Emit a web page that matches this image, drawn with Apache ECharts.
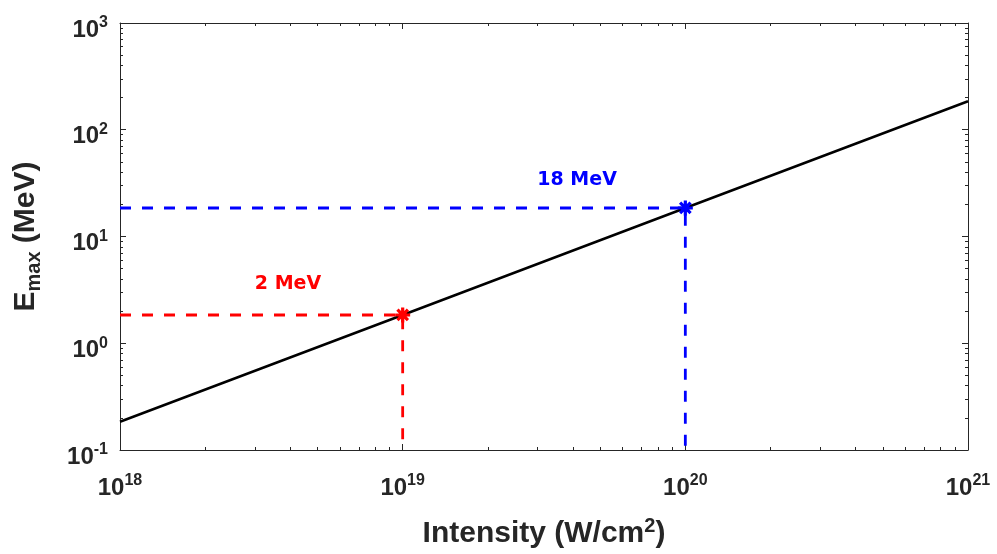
<!DOCTYPE html>
<html>
<head>
<meta charset="utf-8">
<script src="https://cdn.jsdelivr.net/npm/echarts@6/dist/echarts.min.js"></script>
<style>
  html, body { margin: 0; padding: 0; background: #fff; }
  #chart { width: 997px; height: 554px; }
</style>
</head>
<body>
<div id="chart"></div>
<script>
  // intensity (W/cm^2) vs max energy (MeV)
  const intensity = [1e18, 1e19, 1e20, 1e21];
  const emax = [0.184, 1.84, 18.5, 185];

  const redPoint = [1e19, 1.84];
  const bluePoint = [1e20, 18.5];

  const labelRed = { text: "2 MeV", at: [3.93e18, 3.55] };
  const labelBlue = { text: "18 MeV", at: [4.14e19, 33.5] };

  const xMajor = [1e18, 1e19, 1e20, 1e21];
  const yMajor = [0.1, 1, 10, 100, 1000];

  function minors(majors) {
    const out = [];
    for (let i = 0; i < majors.length - 1; i++) {
      for (let k = 2; k <= 9; k++) out.push(majors[i] * k);
    }
    return out;
  }

  // log10 of the top value can round just above the extent; pull it inside
  function inside(values) {
    const top = values[values.length - 1];
    return values.map((v) => (v === top ? v * (1 - 1e-9) : v));
  }

  const AXIS_COLOR = "#262626";
  const FONT = "'Liberation Sans', Arial, sans-serif";

  const rich = {
    b: { fontSize: 24, fontWeight: "bold", lineHeight: 30, color: AXIS_COLOR, fontFamily: FONT },
    s: { fontSize: 16, fontWeight: "bold", lineHeight: 12, verticalAlign: "top", color: AXIS_COLOR, fontFamily: FONT },
  };

  function powLabel(v) {
    const e = Math.round(Math.log10(v));
    return "{b|10}{s|" + e + "}";
  }

  function xAxisDef(extra) {
    return Object.assign({
      type: "log",
      logBase: 10,
      min: 1e18,
      max: 1e21,
      axisLine: { show: true, onZero: false, lineStyle: { color: AXIS_COLOR, width: 1 } },
      splitLine: { show: false },
      axisLabel: { show: false },
    }, extra);
  }

  function yAxisDef(extra) {
    return Object.assign({
      type: "log",
      logBase: 10,
      min: 0.1,
      max: 1000,
      axisLine: { show: true, onZero: false, lineStyle: { color: AXIS_COLOR, width: 1 } },
      splitLine: { show: false },
      axisLabel: { show: false },
    }, extra);
  }

  const majorTick = { show: true, inside: true, length: 6, lineStyle: { color: AXIS_COLOR, width: 1 } };
  const minorTick = { show: true, inside: true, length: 3, lineStyle: { color: AXIS_COLOR, width: 1 } };

  const titleRich = {
    n: { fontSize: 30, fontWeight: "bold", lineHeight: 36, color: AXIS_COLOR, fontFamily: FONT },
    s: { fontSize: 20, fontWeight: "bold", lineHeight: 14, verticalAlign: "top", color: AXIS_COLOR, fontFamily: FONT },
    sub: { fontSize: 20, fontWeight: "bold", lineHeight: 14, verticalAlign: "bottom", color: AXIS_COLOR, fontFamily: FONT },
  };

  const xTicks = inside(xMajor);
  const yTicks = inside(yMajor);

  const xAxes = [
    xAxisDef({
      position: "bottom",
      axisTick: Object.assign({}, majorTick, { customValues: xTicks }),
      axisLabel: {
        show: true, customValues: xTicks, margin: 23, formatter: powLabel, rich: rich,
        showMinLabel: true, showMaxLabel: true, hideOverlap: false,
      },
      name: "{n|Intensity (W/cm}{s|2}{n|)}",
      nameLocation: "middle",
      nameGap: 66,
      nameTextStyle: { rich: titleRich },
    }),
    xAxisDef({ position: "bottom", axisLine: { show: false }, axisTick: Object.assign({}, minorTick, { customValues: minors(xMajor) }) }),
    xAxisDef({ position: "top", axisTick: Object.assign({}, majorTick, { customValues: xTicks }) }),
    xAxisDef({ position: "top", axisLine: { show: false }, axisTick: Object.assign({}, minorTick, { customValues: minors(xMajor) }) }),
  ];

  const yAxes = [
    yAxisDef({
      position: "left",
      axisTick: Object.assign({}, majorTick, { customValues: yTicks }),
      axisLabel: {
        show: true, customValues: yTicks, margin: 12, formatter: powLabel, rich: rich,
        padding: [14, 0, 0, 0], showMinLabel: true, showMaxLabel: true,
      },
      name: "{n|E}{sub|max}{n| (MeV)}",
      nameLocation: "middle",
      nameRotate: 90,
      nameGap: 76,
      nameTextStyle: { rich: titleRich },
    }),
    yAxisDef({ position: "left", axisLine: { show: false }, axisTick: Object.assign({}, minorTick, { customValues: minors(yMajor) }) }),
    yAxisDef({ position: "right", axisTick: Object.assign({}, majorTick, { customValues: yTicks }) }),
    yAxisDef({ position: "right", axisLine: { show: false }, axisTick: Object.assign({}, minorTick, { customValues: minors(yMajor) }) }),
  ];

  const STAR = "path://M0,5L10,5M5,0L5,10M1.5,1.5L8.5,8.5M8.5,1.5L1.5,8.5";

  function guide(point, color) {
    return {
      type: "line",
      data: [[1e18, point[1]], point, [point[0], 0.1]],
      symbol: "none",
      silent: true,
      lineStyle: { color: color, width: 2.8, type: [11, 11] },
      z: 3,
    };
  }

  function marker(point, color) {
    return {
      type: "scatter",
      data: [point],
      symbol: STAR,
      symbolSize: 15,
      silent: true,
      itemStyle: { color: color, borderColor: color, borderWidth: 3.2, opacity: 1 },
      z: 5,
    };
  }

  function note(lbl, color) {
    return {
      type: "scatter",
      data: [lbl.at],
      symbol: "circle",
      symbolSize: 1,
      silent: true,
      itemStyle: { color: "rgba(0,0,0,0)", opacity: 1 },
      label: {
        show: true,
        position: "inside",
        formatter: lbl.text,
        color: color,
        fontSize: 19,
        fontWeight: "bold",
        fontFamily: "'DejaVu Sans', sans-serif",
      },
      z: 6,
    };
  }

  const option = {
    animation: false,
    backgroundColor: "#fff",
    grid: { left: 120, right: 29, top: 23, bottom: 104 },
    xAxis: xAxes,
    yAxis: yAxes,
    series: [
      guide(redPoint, "#ff0000"),
      guide(bluePoint, "#0000ff"),
      {
        type: "line",
        data: intensity.map((x, i) => [x, emax[i]]),
        symbol: "none",
        silent: true,
        lineStyle: { color: "#000", width: 2.5 },
        z: 4,
      },
      marker(redPoint, "#ff0000"),
      marker(bluePoint, "#0000ff"),
      note(labelRed, "#ff0000"),
      note(labelBlue, "#0000ff"),
    ],
  };

  const chart = echarts.init(document.getElementById("chart"), null, { renderer: "canvas" });
  chart.setOption(option);
</script>
</body>
</html>
